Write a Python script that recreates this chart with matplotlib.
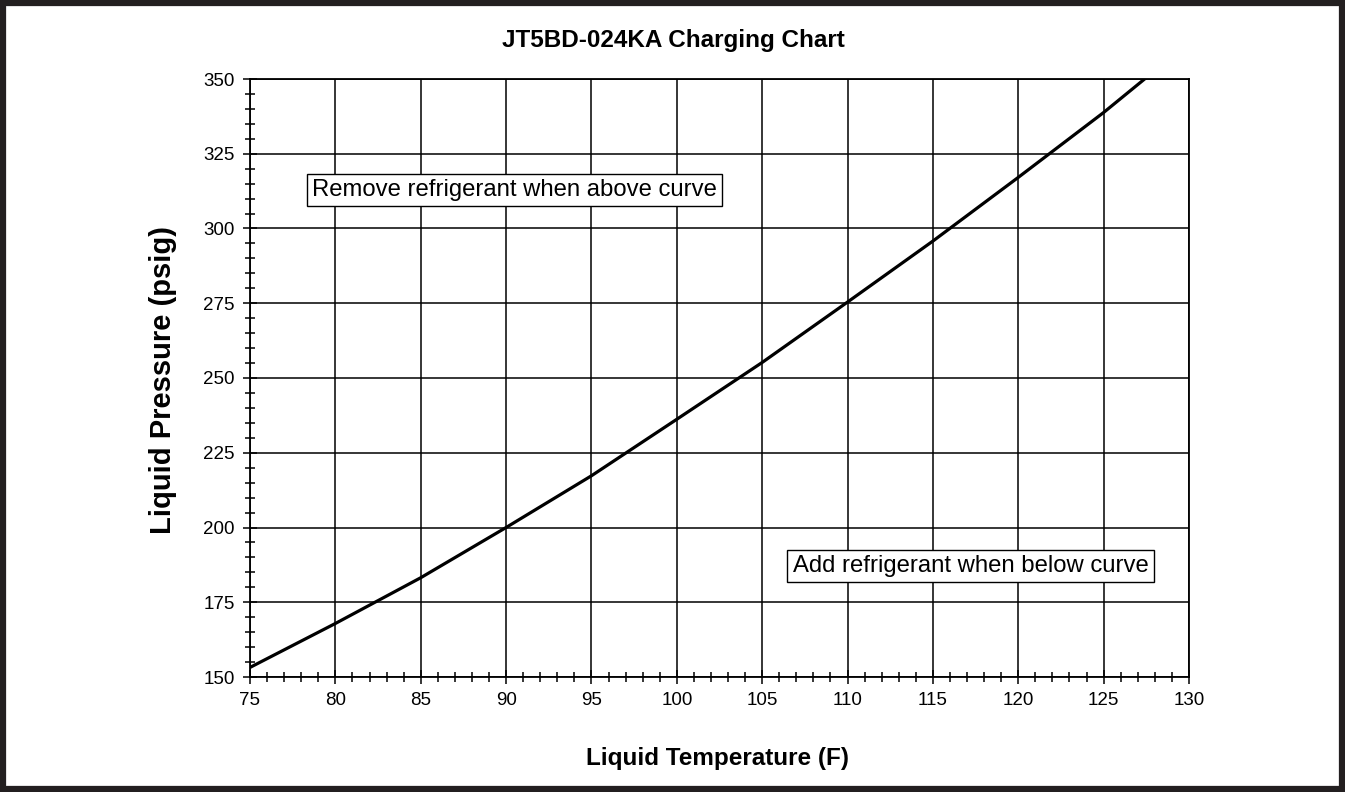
import matplotlib.pyplot as plt
from matplotlib.patches import Rectangle
from matplotlib.ticker import MultipleLocator

plt.rcParams['font.family'] = ['Liberation Sans', 'DejaVu Sans']

# values
liquid_temp = [75, 80, 85, 90, 95, 100, 105, 110, 115, 120, 125, 127.4]
liquid_pressure = [153.2, 167.9, 183.2, 200.0, 217.3, 236.2, 255.2, 275.4, 295.8, 317.1, 338.8, 350.0]

title = "JT5BD-024KA Charging Chart"
xlabel = "Liquid Temperature (F)"
ylabel = "Liquid Pressure (psig)"
note_above = "Remove refrigerant when above curve"
note_below = "Add refrigerant when below curve"

fig = plt.figure(figsize=(13.45, 7.92), dpi=100)
ax = fig.add_axes([250 / 1345, 115 / 792, 939 / 1345, 598 / 792])

ax.plot(liquid_temp, liquid_pressure, color='black', lw=2.3, zorder=3)

ax.set_xlim(75, 130)
ax.set_ylim(150, 350)
ax.xaxis.set_major_locator(MultipleLocator(5))
ax.xaxis.set_minor_locator(MultipleLocator(1))
ax.yaxis.set_major_locator(MultipleLocator(25))
ax.yaxis.set_minor_locator(MultipleLocator(5))
ax.grid(which='major', color='black', lw=1.1)
ax.tick_params(which='major', direction='inout', length=10, width=1.1, labelsize=13.5, pad=6)
ax.tick_params(which='minor', direction='inout', length=7, width=1.1)
for s in ax.spines.values():
    s.set_linewidth(1.3)

# axis labels and title placed in figure pixels, like the reference
fig.text(717 / 1345, 1 - 759 / 792, xlabel, ha='center', va='center', fontsize=17.5, fontweight='bold')
fig.text(163 / 1345, 1 - 380 / 792, ylabel, ha='center', va='center', rotation=90,
         fontsize=21, fontweight='bold')
fig.text(673 / 1345, 1 - 40 / 792, title, ha='center', va='center', fontsize=17.5, fontweight='bold')

box = dict(boxstyle='square,pad=0.22', facecolor='white', edgecolor='black', lw=1.0)
ax.text(90.5, 312.9, note_above, ha='center', va='center', fontsize=17.2, bbox=box, zorder=4)
ax.text(117.2, 187.1, note_below, ha='center', va='center', fontsize=17.2, bbox=box, zorder=4)

fig.patches.append(Rectangle((0.0025, 0.004), 0.995, 0.992, transform=fig.transFigure,
                             fill=False, edgecolor='#231f20', lw=4.5))

fig.savefig('out.png', dpi=100)
